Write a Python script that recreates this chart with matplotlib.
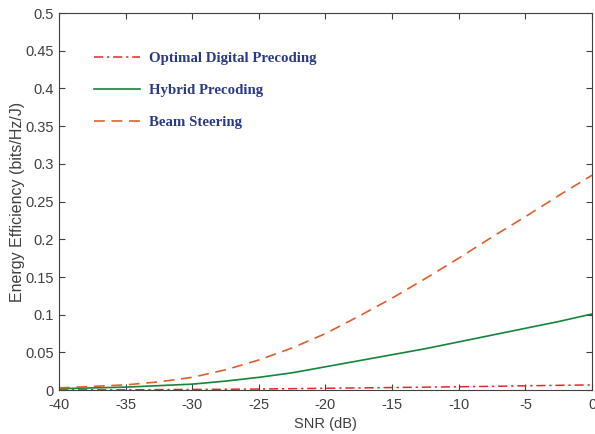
import matplotlib.pyplot as plt

plt.rcParams['font.family'] = ['Liberation Sans', 'DejaVu Sans']
plt.rcParams['axes.unicode_minus'] = False

snr = [-40, -37.5, -35, -32.5, -30, -27.5, -25, -22.5, -20, -17.5, -15,
       -12.5, -10, -7.5, -5, -2.5, 0]
ee_optimal = [0.0003, 0.0004, 0.0005, 0.0007, 0.001, 0.0012, 0.0015, 0.002,
              0.0025, 0.003, 0.0035, 0.004, 0.0045, 0.0051, 0.0058, 0.0064, 0.007]
ee_hybrid = [0.002, 0.003, 0.004, 0.006, 0.008, 0.012, 0.017, 0.023, 0.031,
             0.039, 0.047, 0.055, 0.064, 0.073, 0.082, 0.091, 0.101]
ee_beam = [0.003, 0.005, 0.007, 0.011, 0.017, 0.027, 0.04, 0.056, 0.075,
           0.098, 0.122, 0.148, 0.175, 0.203, 0.23, 0.258, 0.285]

fig = plt.figure(figsize=(5.95, 4.34), dpi=100)
ax = fig.add_axes([0.099, 0.101, 0.896, 0.869])

ax.plot(snr, ee_optimal, color='#e8262a', linestyle=(0, (6, 2.5, 1.5, 2.5)),
        linewidth=1.1, label='Optimal Digital Precoding')
ax.plot(snr, ee_hybrid, color='#17843a', linestyle='-', linewidth=1.2,
        label='Hybrid Precoding')
ax.plot(snr, ee_beam, color='#e0602a', linestyle=(0, (6.5, 4)), linewidth=1.2,
        label='Beam Steering')

ax.set_xlim(-40, 0)
ax.set_ylim(0, 0.5)
ax.set_xticks(range(-40, 1, 5))
ax.set_yticks([0, 0.05, 0.1, 0.15, 0.2, 0.25, 0.3, 0.35, 0.4, 0.45, 0.5])
ax.set_yticklabels(['0', '0.05', '0.1', '0.15', '0.2', '0.25', '0.3', '0.35',
                    '0.4', '0.45', '0.5'])
ax.tick_params(direction='in', top=True, right=True, labelsize=10.5,
               labelcolor='#404040', color='#404040', length=4)
ax.tick_params(axis='x', pad=6)
for s in ax.spines.values():
    s.set_color('#404040')
    s.set_linewidth(0.8)

ax.set_xlabel('SNR (dB)', fontsize=10.5, color='#404040', labelpad=3)
ax.set_ylabel('Energy Efficiency (bits/Hz/J)', fontsize=11.5, color='#404040',
              labelpad=0)

leg = ax.legend(loc='upper left', bbox_to_anchor=(0.04, 0.932), frameon=False,
                prop={'family': 'Liberation Serif', 'weight': 'bold', 'size': 10.7},
                handlelength=3.15, labelspacing=1.24, handletextpad=0.55)
for t in leg.get_texts():
    t.set_color('#2b3a87')

plt.savefig('out.png')
